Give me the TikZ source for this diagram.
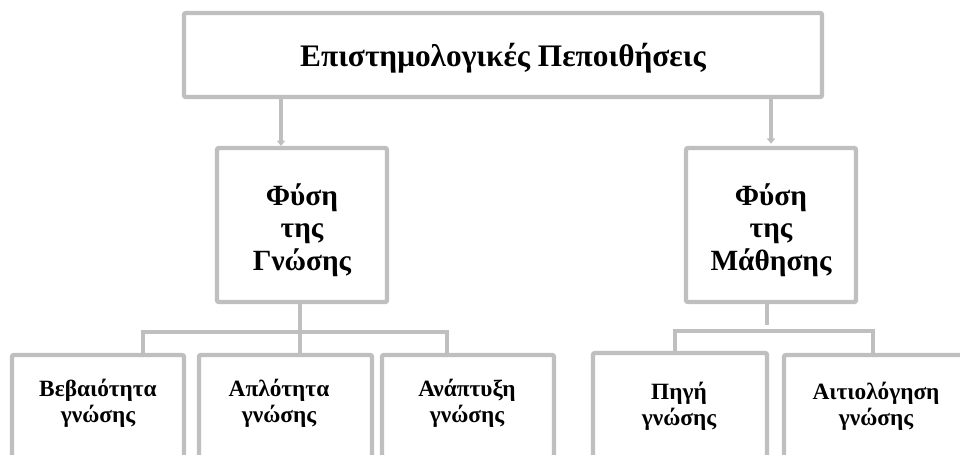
\documentclass[tikz,border=0pt]{standalone}
\usepackage{fontspec}
\setmainfont{Liberation Serif}
\usetikzlibrary{arrows.meta}
\definecolor{framegray}{HTML}{BFBFBF}
\begin{document}
\begin{tikzpicture}[x=0.75pt,y=-0.75pt,
  frame/.style n args={2}{draw=framegray, line width=3.3pt, fill=white,
    rounded corners=1.5pt, inner sep=0pt,
    minimum width=#1*0.75pt, minimum height=#2*0.75pt},
  conn/.style={draw=framegray, line width=3.3pt},
  tip/.style={-{Triangle[length=4pt,width=6pt]}},
  titletext/.style={font=\bfseries\fontsize{23.5}{27}\selectfont},
  midtext/.style={font=\bfseries\fontsize{22}{24.5}\selectfont, align=center},
  leaftext/.style={font=\bfseries\fontsize{17.5}{19.5}\selectfont, align=center}]
\useasboundingbox (0,0) rectangle (960,454);
\clip (0,0) rectangle (960,454);

% boxes
\node[frame={638}{84}]  (top) at (503,55) {};
\node[frame={170}{154}] (gn)  at (302,225) {};
\node[frame={170}{154}] (ma)  at (771,225) {};
\node[frame={172}{140}] (b1)  at (98,425) {};
\node[frame={173}{140}] (b2)  at (285.5,425) {};
\node[frame={172}{140}] (b3)  at (468,425) {};
\node[frame={174}{140}] (b4)  at (680,423) {};
\node[frame={184}{140}] (b5)  at (876,425) {};

% texts
\node[titletext] (ttop) at (503,58) {Επιστημολογικές Πεποιθήσεις};
\node[midtext] (tgn) at (302,230) {Φύση\\της\\Γνώσης};
\node[midtext] (tma) at (771,230) {Φύση\\της\\Μάθησης};
\node[leaftext] (t1) at (98,403) {Βεβαιότητα\\γνώσης};
\node[leaftext] (t2) at (279,403) {Απλότητα\\γνώσης};
\node[leaftext] (t3) at (467,403) {Ανάπτυξη\\γνώσης};
\node[leaftext] (t4) at (679,406) {Πηγή\\γνώσης};
\node[leaftext] (t5) at (876,406) {Αιτιολόγηση\\γνώσης};

% arrows from the top box
\coordinate (a1) at (281,146);
\draw[conn,tip] (top.south -| a1) -- (a1);
\draw[conn,tip] (top.south -| ma.north) -- ([yshift=1.5pt]ma.north);

% tree below the first branch
\coordinate (jl) at (300,332);
\coordinate (d1) at (143,355);
\coordinate (d3) at (447,355);
\draw[conn] (gn.south -| jl) -- (b2.north -| jl);
\draw[conn] (d1) -- (d1 |- jl) -- (d3 |- jl) -- (d3);

% tree below the second branch
\coordinate (mr) at (767,325);
\coordinate (jr) at (767,331);
\coordinate (d4) at (675,353);
\coordinate (d5) at (873,355);
\draw[conn] (ma.south -| mr) -- (mr);
\draw[conn] (d4) -- (d4 |- jr) -- (d5 |- jr) -- (d5);
\end{tikzpicture}
\end{document}
